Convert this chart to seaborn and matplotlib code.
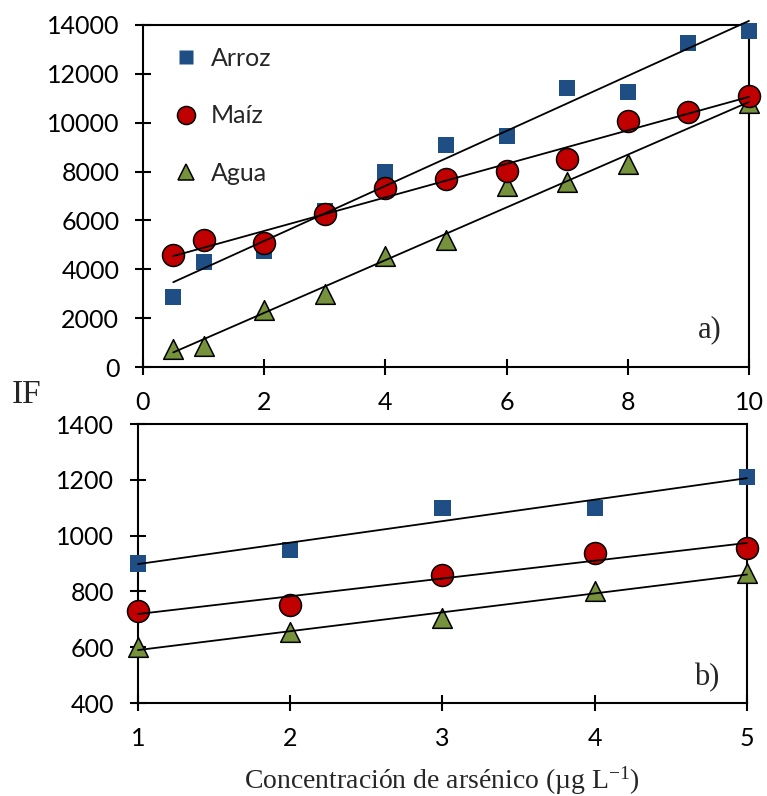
import numpy as np
import pandas as pd
import matplotlib
matplotlib.use("Agg")
import matplotlib.pyplot as plt
from matplotlib.lines import Line2D
import seaborn as sns

# ---- data: fluorescence intensity (IF) vs arsenic concentration ----
conc_a = [0.5, 1, 2, 3, 4, 5, 6, 7, 8, 9, 10]
arroz_a = [2850, 4300, 4750, 6400, 7980, 9080, 9450, 11420, 11260, 13250, 13750]
maiz_a = [4580, 5200, 5070, 6260, 7330, 7680, 8020, 8520, 10070, 10440, 11090]
conc_agua_a = [0.5, 1, 2, 3, 4, 5, 6, 7, 8, 10]
agua_a = [750, 850, 2330, 3000, 4540, 5200, 7400, 7580, 8320, 10800]

conc_b = [1, 2, 3, 4, 5]
arroz_b = [900, 950, 1100, 1100, 1210]
maiz_b = [730, 750, 860, 937, 955]
agua_b = [600, 655, 705, 800, 866]

series_names = ["Arroz", "Maíz", "Agua"]
xticks_a = [0, 2, 4, 6, 8, 10]
yticks_a = [0, 2000, 4000, 6000, 8000, 10000, 12000, 14000]
xticks_b = [1, 2, 3, 4, 5]
yticks_b = [400, 600, 800, 1000, 1200, 1400]

# ---- styling ----
sns.set_style("ticks")
plt.rcParams["font.family"] = ["Lato", "DejaVu Sans"]
plt.rcParams["mathtext.fontset"] = "custom"
plt.rcParams["mathtext.rm"] = "Liberation Serif"
plt.rcParams["mathtext.default"] = "regular"

blue = "#1F4E85"
red = "#C00000"
green = "#76923C"
serif = ["Liberation Serif", "DejaVu Serif"]

styles = {
    "Arroz": dict(marker="s", color=blue, s=135, edgecolor="none", linewidth=0, zorder=4),
    "Agua": dict(marker="^", color=green, s=200, edgecolor="black", linewidth=1.1, zorder=5),
    "Maíz": dict(marker="o", color=red, s=250, edgecolor="black", linewidth=1.1, zorder=6),
}

fig = plt.figure(figsize=(7.67, 7.96), dpi=100)
ax_a = fig.add_axes([0.1864, 0.5389, 0.9765 - 0.1864, 0.9686 - 0.5389])
ax_b = fig.add_axes([0.1799, 0.1168, 0.9739 - 0.1799, 0.4673 - 0.1168])


def draw_panel(ax, data):
    for name in ["Arroz", "Agua", "Maíz"]:
        x, y = data[name]
        df = pd.DataFrame({"conc": x, "IF": y})
        st = styles[name]
        sns.scatterplot(data=df, x="conc", y="IF", ax=ax, marker=st["marker"],
                        color=st["color"], s=st["s"], edgecolor=st["edgecolor"],
                        linewidth=st["linewidth"], zorder=st["zorder"], legend=False)
        ax.collections[-1].set_clip_on(False)
    for name in ["Arroz", "Agua", "Maíz"]:
        x, y = data[name]
        df = pd.DataFrame({"conc": x, "IF": y})
        sns.regplot(data=df, x="conc", y="IF", ax=ax, scatter=False, ci=None,
                    truncate=True, line_kws=dict(color="black", lw=1.3, zorder=8))
        ax.lines[-1].set_clip_on(False)
    for sp in ax.spines.values():
        sp.set_visible(True)
        sp.set_linewidth(1.5)
        sp.set_color("black")
    ax.tick_params(direction="inout", length=12, width=1.5, labelsize=18, colors="black")
    ax.set_xlabel("")
    ax.set_ylabel("")


draw_panel(ax_a, {"Arroz": (conc_a, arroz_a), "Maíz": (conc_a, maiz_a),
                  "Agua": (conc_agua_a, agua_a)})
ax_a.set_xlim(0, 10)
ax_a.set_ylim(0, 14000)
ax_a.set_xticks(xticks_a)
ax_a.set_yticks(yticks_a)
ax_a.tick_params(axis="y", pad=11)
ax_a.tick_params(axis="x", pad=11)
ax_a.text(0.955, 0.088, "a)", transform=ax_a.transAxes, ha="right", va="baseline",
          fontsize=22, family=serif)

draw_panel(ax_b, {"Arroz": (conc_b, arroz_b), "Maíz": (conc_b, maiz_b),
                  "Agua": (conc_b, agua_b)})
ax_b.set_xlim(1, 5)
ax_b.set_ylim(400, 1400)
ax_b.set_xticks(xticks_b)
ax_b.set_yticks(yticks_b)
ax_b.tick_params(axis="y", pad=11)
ax_b.tick_params(axis="x", pad=11)
ax_b.text(0.955, 0.065, "b)", transform=ax_b.transAxes, ha="right", va="baseline",
          fontsize=22, family=serif)

# legend in upper panel
handles = [
    Line2D([], [], ls="none", marker="s", markersize=10, markerfacecolor=blue,
           markeredgecolor="none"),
    Line2D([], [], ls="none", marker="o", markersize=13, markerfacecolor=red,
           markeredgecolor="black", markeredgewidth=1.1),
    Line2D([], [], ls="none", marker="^", markersize=12, markerfacecolor=green,
           markeredgecolor="black", markeredgewidth=1.1),
]
ax_a.legend(handles, series_names, loc="upper left", bbox_to_anchor=(0.025, 0.98),
            frameon=False, fontsize=18, labelspacing=1.38, handletextpad=0.5,
            handlelength=1.0, borderaxespad=0.2)

fig.text(12 / 767, 1 - 403 / 796, "IF", ha="left", va="baseline", fontsize=24, family=serif)
fig.text(442 / 767, 1 - 789 / 796, "Concentración de arsénico (µg L$^{-1}$)",
         ha="center", va="baseline", fontsize=20, family=serif)

fig.savefig("out.png", dpi=100)
